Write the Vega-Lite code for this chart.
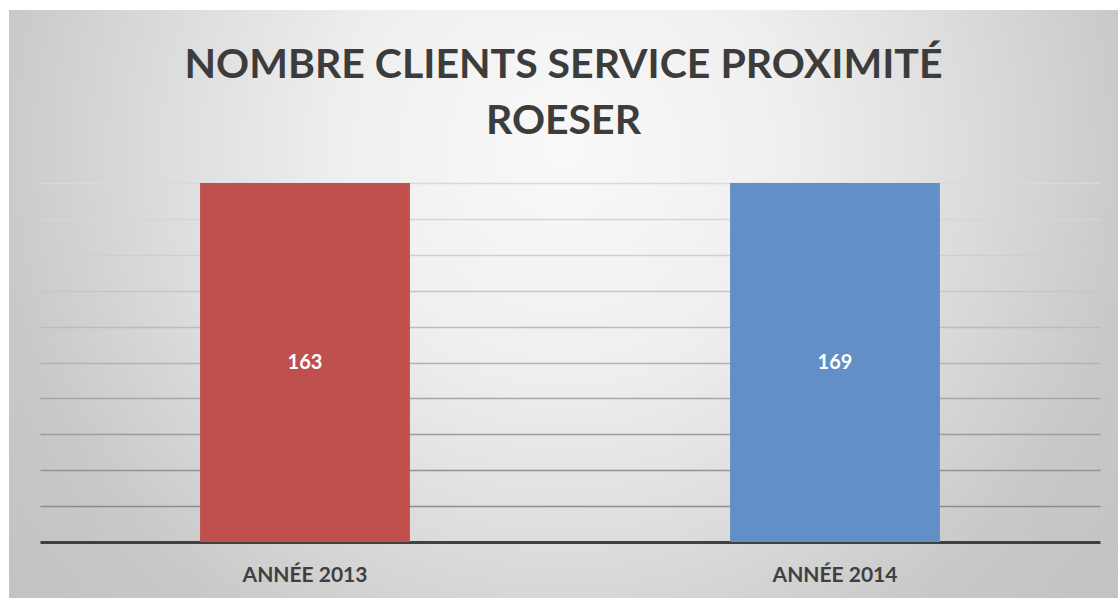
{
  "$schema": "https://vega.github.io/schema/vega-lite/v6.json",
  "width": 1109,
  "height": 588,
  "autosize": {"type": "none"},
  "padding": {"left": 9, "top": 10, "right": 0, "bottom": 0},
  "background": "white",
  "title": {
    "text": ["NOMBRE CLIENTS SERVICE PROXIMITÉ", "ROESER"],
    "frame": "group",
    "anchor": "middle",
    "offset": -133,
    "font": "Lato",
    "fontSize": 41,
    "fontWeight": "bold",
    "lineHeight": 56,
    "color": "#3c3c3c"
  },
  "data": {
    "values": [
      {"annee": "ANNÉE 2013", "clients": 163},
      {"annee": "ANNÉE 2014", "clients": 169}
    ]
  },
  "encoding": {
    "x": {
      "field": "annee",
      "type": "nominal",
      "sort": null,
      "scale": {"range": [31, 1091], "paddingInner": 0.604, "paddingOuter": 0.302},
      "axis": {
        "title": null,
        "orient": "bottom",
        "offset": -23,
        "ticks": false,
        "domain": false,
        "labelPadding": 0,
        "labelBaseline": "middle",
        "labelAngle": 0,
        "labelFont": "Lato",
        "labelFontSize": 21,
        "labelFontWeight": "bold",
        "labelColor": "#404040",
        "grid": false
      }
    }
  },
  "layer": [
    {
      "mark": {"type": "bar"},
      "encoding": {
        "y": {
          "field": "clients",
          "type": "quantitative",
          "stack": "normalize",
          "scale": {"domain": [0, 1], "range": [532, 173], "nice": false},
          "axis": {
            "title": null,
            "labels": false,
            "ticks": false,
            "domain": false,
            "grid": true,
            "values": [0, 0.1, 0.2, 0.3, 0.4, 0.5, 0.6, 0.7, 0.8, 0.9, 1],
            "gridOpacity": 1,
            "gridColor": {
              "condition": [
                {"test": "datum.value < 0.05", "value": "#404040"},
                {"test": "datum.value < 0.15", "value": "#8c8c8c"},
                {"test": "datum.value < 0.25", "value": "#939393"},
                {"test": "datum.value < 0.35", "value": "#9c9c9c"},
                {"test": "datum.value < 0.45", "value": "#a6a6a6"},
                {"test": "datum.value < 0.55", "value": "#b2b2b2"},
                {"test": "datum.value < 0.65", "value": "#bcbcbc"},
                {"test": "datum.value < 0.75", "value": "#c6c6c6"},
                {"test": "datum.value < 0.85", "value": "#cfcfcf"},
                {"test": "datum.value < 0.95", "value": "#d5d5d5"}
              ],
              "value": "#d9d9d9"
            },
            "gridWidth": {
              "condition": {"test": "datum.value < 0.05", "value": 3},
              "value": 1.6
            }
          }
        },
        "color": {
          "field": "annee",
          "type": "nominal",
          "scale": {"range": ["#C0504D", "#6290C6"]},
          "legend": null
        }
      }
    },
    {
      "mark": {"type": "text", "font": "Lato", "fontSize": 20, "fontWeight": "bold", "color": "white", "baseline": "middle"},
      "encoding": {
        "y": {"datum": 0.5, "type": "quantitative"},
        "text": {"field": "clients", "type": "quantitative"}
      }
    }
  ],
  "config": {
    "view": {
      "stroke": null,
      "fill": {
        "gradient": "radial",
        "x1": 0.5, "y1": 0.36, "r1": 0,
        "x2": 0.5, "y2": 0.36, "r2": 0.7,
        "stops": [
          {"offset": 0, "color": "#f9f9f9"},
          {"offset": 0.286, "color": "#efefef"},
          {"offset": 0.5, "color": "#dedede"},
          {"offset": 0.743, "color": "#c8c8c8"},
          {"offset": 1, "color": "#c0c0c0"}
        ]
      }
    }
  }
}
